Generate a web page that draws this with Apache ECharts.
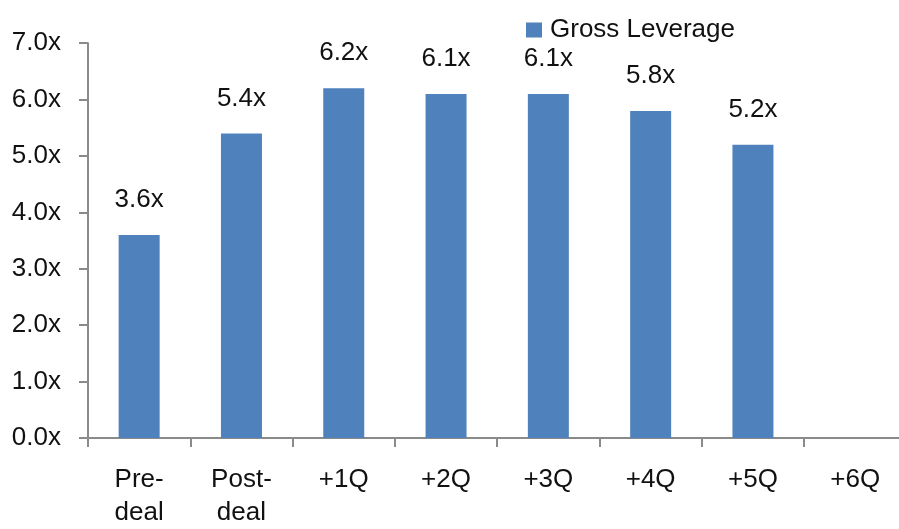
<!DOCTYPE html>
<html>
<head>
<meta charset="utf-8">
<script src="https://cdn.jsdelivr.net/npm/echarts@6/dist/echarts.min.js"></script>
<style>
  html, body { margin: 0; padding: 0; background: #fff; overflow: hidden; }
  #chart { width: 920px; height: 529px; }
</style>
</head>
<body>
<div id="chart"></div>
<script>
// Gross leverage by period
const categories = ['Pre-\ndeal', 'Post-\ndeal', '+1Q', '+2Q', '+3Q', '+4Q', '+5Q', '+6Q'];
const grossLeverage = [3.6, 5.4, 6.2, 6.1, 6.1, 5.8, 5.2, null];
const yTicks = [0, 1, 2, 3, 4, 5, 6, 7];

const FONT = '"Liberation Sans", Arial, Helvetica, sans-serif';
const FS = 26;
const AXIS_GRAY = '#8a8a8a';

const chart = echarts.init(document.getElementById('chart'), null, { renderer: 'canvas' });

chart.setOption({
  animation: false,
  backgroundColor: '#ffffff',
  textStyle: { fontFamily: FONT },
  grid: {
    left: 88,
    top: 43.2,
    width: 818.4,
    height: 400.1,
    containLabel: false
  },
  legend: {
    data: ['Gross Leverage'],
    left: 526,
    top: 17,
    padding: 0,
    itemWidth: 16,
    itemHeight: 15,
    itemGap: 8,
    icon: 'rect',
    textStyle: { fontFamily: FONT, fontSize: FS, color: '#111', padding: [0, 0, 0, 3] }
  },
  xAxis: {
    type: 'category',
    data: categories,
    boundaryGap: true,
    axisLine: { show: true, lineStyle: { color: AXIS_GRAY, width: 2 } },
    axisTick: { show: true, alignWithLabel: false, length: 9, lineStyle: { color: AXIS_GRAY, width: 2 } },
    axisLabel: {
      interval: 0,
      margin: 25,
      fontFamily: FONT,
      fontSize: FS,
      lineHeight: 33,
      color: '#111',
      align: 'center'
    },
    splitLine: { show: false }
  },
  yAxis: {
    type: 'value',
    min: yTicks[0],
    max: yTicks[yTicks.length - 1],
    interval: 1,
    axisLine: { show: true, lineStyle: { color: AXIS_GRAY, width: 2 } },
    axisTick: { show: true, length: 9, lineStyle: { color: AXIS_GRAY, width: 2 } },
    axisLabel: {
      margin: 27,
      fontFamily: FONT,
      fontSize: FS,
      color: '#111',
      formatter: v => v.toFixed(1) + 'x'
    },
    splitLine: { show: false }
  },
  series: [{
    name: 'Gross Leverage',
    type: 'bar',
    data: grossLeverage,
    barWidth: 41,
    itemStyle: { color: '#4f81bd' },
    label: {
      show: true,
      position: 'top',
      distance: 22,
      fontFamily: FONT,
      fontSize: FS,
      color: '#111',
      formatter: p => (p.value == null ? '' : Number(p.value).toFixed(1) + 'x')
    }
  }]
});
</script>
</body>
</html>
